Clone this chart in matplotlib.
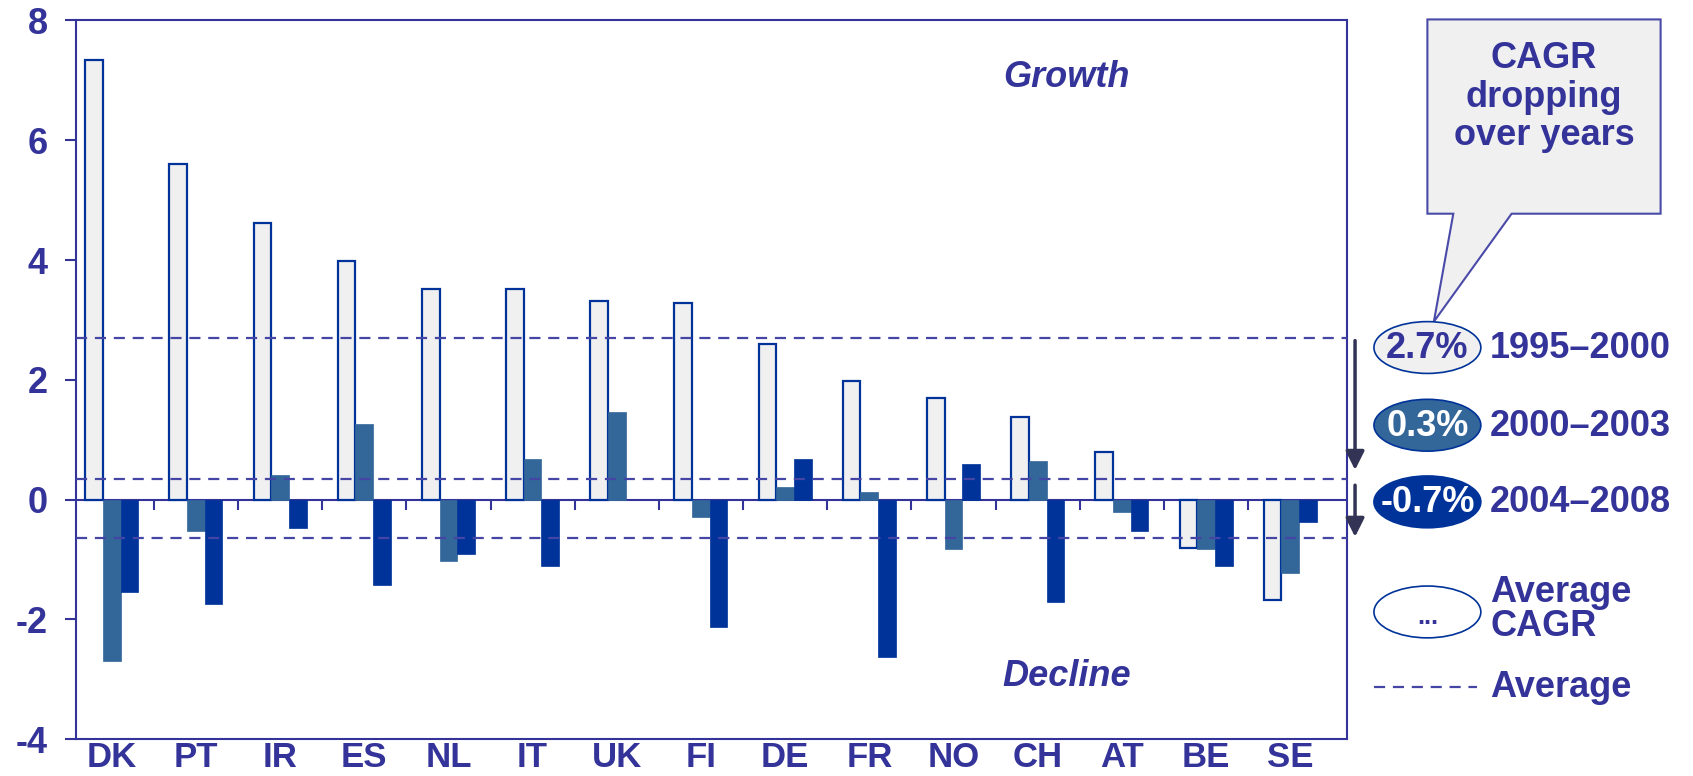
import matplotlib
matplotlib.use('Agg')
import matplotlib.pyplot as plt
import numpy as np
from matplotlib.patches import Ellipse, Polygon, FancyArrowPatch

# ---------------- data ----------------
countries = ['DK', 'PT', 'IR', 'ES', 'NL', 'IT', 'UK', 'FI', 'DE', 'FR', 'NO', 'CH', 'AT', 'BE', 'SE']
cagr_1995_2000 = [7.34, 5.60, 4.62, 3.99, 3.52, 3.52, 3.32, 3.28, 2.60, 1.98, 1.70, 1.38, 0.79, -0.81, -1.68]
cagr_2000_2003 = [-2.70, -0.52, 0.41, 1.27, -1.03, 0.68, 1.47, -0.29, 0.21, 0.13, -0.83, 0.64, -0.21, -0.83, -1.22]
cagr_2004_2008 = [-1.54, -1.74, -0.48, -1.43, -0.91, -1.11, np.nan, -2.13, 0.68, -2.63, 0.60, -1.70, -0.52, -1.11, -0.37]
avg_lines = [2.7, 0.35, -0.64]
avg_labels = ['2.7%', '0.3%', '-0.7%']
period_labels = ['1995–2000', '2000–2003', '2004–2008']
yticks = [-4, -2, 0, 2, 4, 6, 8]

# ---------------- style ----------------
NAVY = '#333399'
LIGHT = '#F0F0F0'
EDGE = '#003399'
MID = '#336699'
DARK = '#003399'
DASH = '#4545A5'
ARROW = '#333355'
FS = 26
plt.rcParams['font.family'] = ['Liberation Sans', 'DejaVu Sans']

fig = plt.figure(figsize=(16.93, 7.76), dpi=100)
ax = fig.add_axes([0.0446, 0.0473, 0.7513, 0.9263])

x = np.arange(len(countries))
w = 0.21
ax.bar(x - w, cagr_1995_2000, w, color=LIGHT, edgecolor=EDGE, linewidth=1.6, zorder=3)
ax.bar(x, cagr_2000_2003, w, color=MID, edgecolor=MID, linewidth=0.5, zorder=3)
ax.bar(x + w, cagr_2004_2008, w, color=DARK, edgecolor=DARK, linewidth=0.5, zorder=3)

for v in avg_lines:
    ax.axhline(v, color=DASH, lw=1.6, ls=(0, (5, 3.5)), zorder=4)
ax.axhline(0, color=NAVY, lw=1.5, zorder=2)
ax.vlines(x[:-1] + 0.5, -0.17, 0, color=NAVY, lw=1.5, zorder=2)

ax.set_xlim(-0.43, len(countries) - 1 + 0.68)
ax.set_ylim(-4, 8)
ax.set_yticks(yticks)
ax.set_yticklabels([str(t) for t in yticks])
ax.set_xticks(x)
ax.set_xticklabels(countries)
ax.tick_params(axis='y', length=8, width=1.5, color=NAVY, pad=12,
               labelsize=FS, labelcolor=NAVY)
ax.tick_params(axis='x', length=0, pad=1, labelsize=25, labelcolor=NAVY)
for lab in ax.get_xticklabels() + ax.get_yticklabels():
    lab.set_fontweight('bold')
for s in ax.spines.values():
    s.set_color(NAVY)
    s.set_linewidth(1.5)

# ---------------- overlay (annotations) ----------------
ov = fig.add_axes([0, 0, 1, 1], zorder=10)
ov.set_xlim(0, 1568)
ov.set_ylim(719, 0)
ov.axis('off')
ov.patch.set_alpha(0)

ov.text(988, 72, 'Growth', fontsize=FS, style='italic', fontweight='bold', color=NAVY,
        ha='center', va='center')
ov.text(988, 627, 'Decline', fontsize=FS, style='italic', fontweight='bold', color=NAVY,
        ha='center', va='center')

# callout
call = Polygon([(1322, 18), (1538, 18), (1538, 198), (1400, 198), (1328, 298),
                (1346, 198), (1322, 198)], closed=True, facecolor=LIGHT,
               edgecolor='#4a4aa8', lw=1.5)
ov.add_patch(call)
ov.text(1430, 90, 'CAGR\ndropping\nover years', fontsize=FS, fontweight='bold',
        color=NAVY, ha='center', va='center', linespacing=1.12)

# legend ellipses
ell_y = [322, 394, 465]
fills = [LIGHT, MID, DARK]
tcols = [NAVY, 'white', 'white']
for yy, fc, tc, lab, per in zip(ell_y, fills, tcols, avg_labels, period_labels):
    ov.add_patch(Ellipse((1322, yy), 99, 48, facecolor=fc, edgecolor=EDGE, lw=1.2))
    ov.text(1322, yy + 1, lab, fontsize=FS, fontweight='bold', color=tc,
            ha='center', va='center')
    ov.text(1380, yy + 1, per, fontsize=FS, fontweight='bold', color=NAVY,
            ha='left', va='center')

ov.add_patch(Ellipse((1322, 567), 99, 48, facecolor='white', edgecolor=EDGE, lw=1.2))
ov.text(1322, 572, '...', fontsize=18, fontweight='bold', color=NAVY, ha='center', va='center')
ov.text(1380, 565, 'Average\nCAGR', fontsize=FS, fontweight='bold', color=NAVY,
        ha='left', va='center', linespacing=0.95)
ov.plot([1273, 1368], [637, 637], color=DASH, lw=1.6, ls=(0, (5, 3.5)))
ov.text(1380, 637, 'Average', fontsize=FS, fontweight='bold', color=NAVY,
        ha='left', va='center')

# arrows
for y0, y1 in [(313, 438), (447, 500)]:
    ov.add_patch(FancyArrowPatch((1255, y0), (1255, y1), arrowstyle='-|>',
                                 mutation_scale=28, color=ARROW, lw=2.5))

fig.savefig('out.png', dpi=100, facecolor='white')
